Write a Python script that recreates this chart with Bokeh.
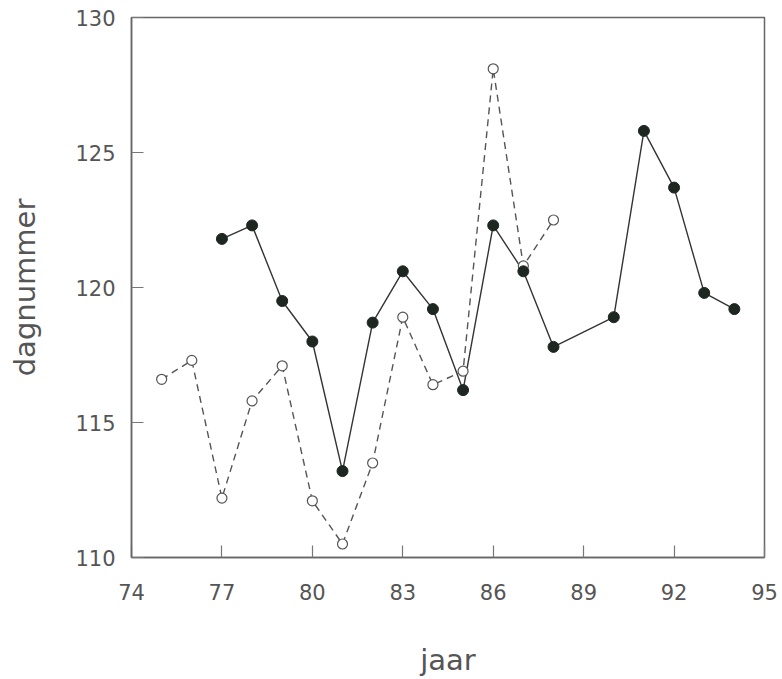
from bokeh.plotting import figure
from bokeh.models import Range1d, FixedTicker
from bokeh.embed import file_html
from bokeh.resources import INLINE

# filled series (solid line)
years_a = [77, 78, 79, 80, 81, 82, 83, 84, 85, 86, 87, 88, 90, 91, 92, 93, 94]
days_a = [121.8, 122.3, 119.5, 118.0, 113.2, 118.7, 120.6, 119.2, 116.2,
          122.3, 120.6, 117.8, 118.9, 125.8, 123.7, 119.8, 119.2]

# open series (dashed line)
years_b = [75, 76, 77, 78, 79, 80, 81, 82, 83, 84, 85, 86, 87, 88]
days_b = [116.6, 117.3, 112.2, 115.8, 117.1, 112.1, 110.5, 113.5, 118.9,
          116.4, 116.9, 128.1, 120.8, 122.5]

x_ticks = [74, 77, 80, 83, 86, 89, 92, 95]
y_ticks = [110, 115, 120, 125, 130]

FONT = "DejaVu Sans"
TXT = "#555555"

p = figure(width=782, height=679, output_backend="svg", toolbar_location=None,
           x_range=Range1d(74, 95), y_range=Range1d(110, 130),
           min_border_left=131, min_border_right=18,
           min_border_top=17, min_border_bottom=122)
p.background_fill_color = "white"
p.border_fill_color = "white"
p.grid.visible = False
p.outline_line_color = "#666666"
p.outline_line_width = 1.5

for ax in (p.xaxis[0], p.yaxis[0]):
    ax.axis_line_color = "#666666"
    ax.axis_line_width = 1.5
    ax.major_tick_in = 12
    ax.major_tick_out = 0
    ax.major_tick_line_color = "#777777"
    ax.major_tick_line_width = 1.2
    ax.minor_tick_line_color = None
    ax.major_label_text_font = FONT
    ax.major_label_text_font_size = "21px"
    ax.major_label_text_color = TXT
    ax.axis_label_text_font = FONT
    ax.axis_label_text_font_size = "29px"
    ax.axis_label_text_font_style = "normal"
    ax.axis_label_text_color = TXT

p.xaxis.ticker = FixedTicker(ticks=x_ticks)
p.yaxis.ticker = FixedTicker(ticks=y_ticks)
p.xaxis.axis_label = "jaar"
p.yaxis.axis_label = "dagnummer"
p.xaxis.major_label_standoff = 26
p.xaxis.axis_label_standoff = 40
p.yaxis.major_label_standoff = 16
p.yaxis.axis_label_standoff = 30

p.line(years_b, days_b, line_color="#555555", line_width=1.4, line_dash="7 5")
p.line(years_a, days_a, line_color="#333333", line_width=1.4)
p.scatter(years_b, days_b, size=10, marker="circle", fill_color="white",
          line_color="#555555", line_width=1.2)
p.scatter(years_a, days_a, size=11, marker="circle", fill_color="#1e2622",
          line_color="#1e2622")

open("out.html", "w").write(file_html(p, INLINE))
